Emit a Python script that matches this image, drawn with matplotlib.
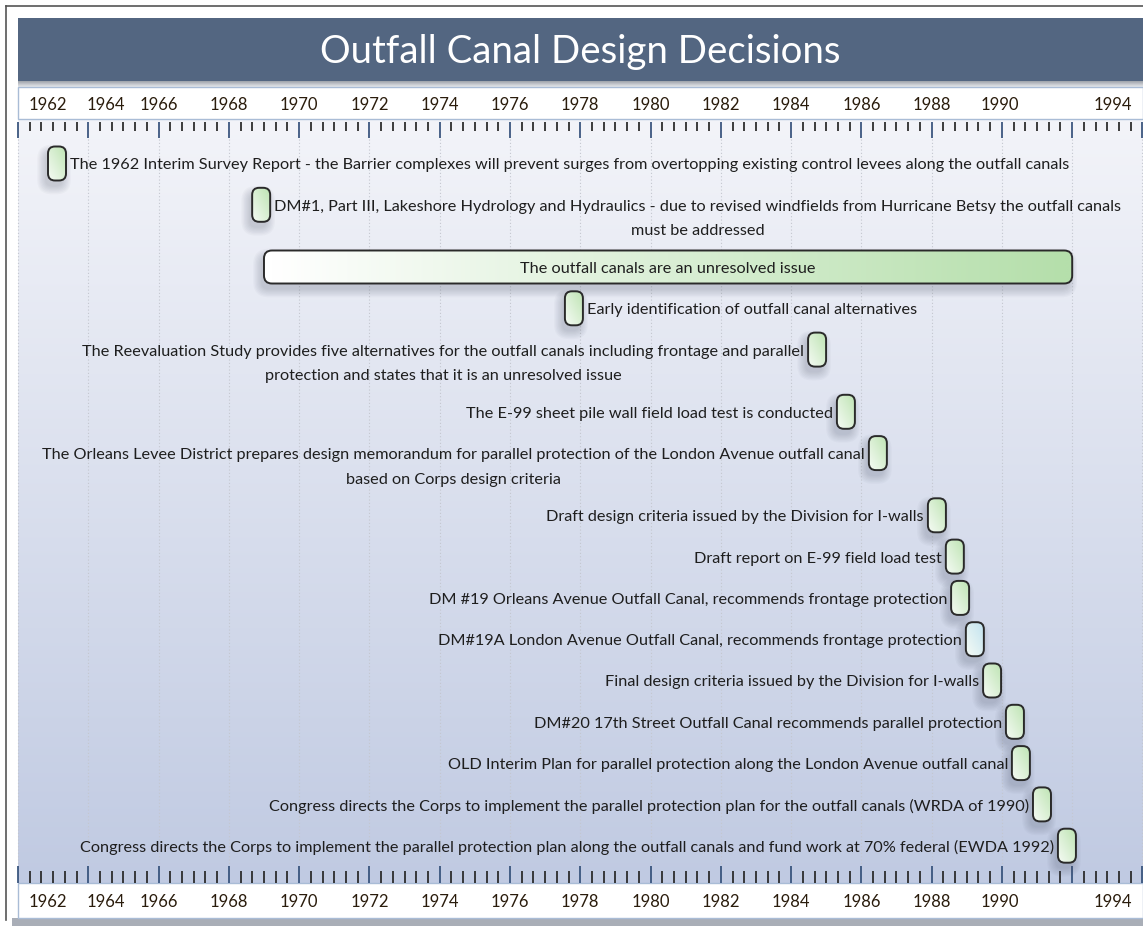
import numpy as np
import matplotlib
matplotlib.use("Agg")
import matplotlib.pyplot as plt
from matplotlib.patches import FancyBboxPatch, Rectangle
from matplotlib.colors import to_rgb

plt.rcParams['font.family'] = ['Lato', 'DejaVu Sans']

# ---------------- data ----------------
title = "Outfall Canal Design Decisions"
tick_label_years = [1962, 1964, 1966, 1968, 1970, 1972, 1974, 1976, 1978,
                    1980, 1982, 1984, 1986, 1988, 1990, 1994]

milestone_labels = [
    "The 1962 Interim Survey Report - the Barrier complexes will prevent surges from overtopping existing control levees along the outfall canals",
    "DM#1, Part III, Lakeshore Hydrology and Hydraulics - due to revised windfields from Hurricane Betsy the outfall canals\nmust be addressed",
    "Early identification of outfall canal alternatives",
    "The Reevaluation Study provides five alternatives for the outfall canals including frontage and parallel\nprotection and states that it is an unresolved issue",
    "The E-99 sheet pile wall field load test is conducted",
    "The Orleans Levee District prepares design memorandum for parallel protection of the London Avenue outfall canal\nbased on Corps design criteria",
    "Draft design criteria issued by the Division for I-walls",
    "Draft report on E-99 field load test",
    "DM #19 Orleans Avenue Outfall Canal, recommends frontage protection",
    "DM#19A London Avenue Outfall Canal, recommends frontage protection",
    "Final design criteria issued by the Division for I-walls",
    "DM#20 17th Street Outfall Canal recommends parallel protection",
    "OLD Interim Plan for parallel protection along the London Avenue outfall canal",
    "Congress directs the Corps to implement the parallel protection plan for the outfall canals (WRDA of 1990)",
    "Congress directs the Corps to implement the parallel protection plan along the outfall canals and fund work at 70% federal (EWDA 1992)",
]
milestone_dates = [1963.11, 1968.92, 1977.82, 1984.74, 1985.56, 1986.47, 1988.15,
                   1988.66, 1988.81, 1989.23, 1989.72, 1990.37, 1990.54, 1991.14, 1991.85]
milestone_sides = ['right', 'right', 'right'] + ['left'] * 12

span_label = "The outfall canals are an unresolved issue"
span_start = 1969.0
span_end = 1992.0
span_row = 2  # position of the span within the display order

# ---------------- styles / layout ----------------
milestone_colors = ['#c3e6b9'] * 15
milestone_colors[9] = '#c6e5f0'
label_offsets_px = [30, 18, 0, 0, 0, 0, 0, 0, 0, 0, 0, 0, 0, 0, -2, -30]

W, H = 1143, 926
PPY = 35.14          # pixels per year
ORIGIN_PX = 18.0     # pixel x of 1962.0
X0 = 1962 - ORIGIN_PX / PPY
X1 = X0 + W / PPY

def px(xp):
    return X0 + xp / PPY

fig = plt.figure(figsize=(W / 100, H / 100), dpi=100)
ax = fig.add_axes([0, 0, 1, 1])
ax.set_autoscale_on(False)
ax.set_xlim(X0, X1)
ax.set_ylim(H, 0)
ax.axis('off')

def lerp_img(c0, c1, t):
    c0 = np.array(to_rgb(c0)); c1 = np.array(to_rgb(c1))
    return c0 * (1 - t)[..., None] + c1 * t[..., None]

# outer frame & bottom gray strip
ax.add_patch(Rectangle((px(12), 918), (W - 12) / PPY, 10, fc='#a9aeb7', ec='none', zorder=0))
ax.plot([px(6), px(6)], [6, 920], color='#555555', lw=1.2, zorder=1)
ax.plot([px(6), px(W)], [6, 6], color='#555555', lw=1.2, zorder=1)

# body gradient
t = np.linspace(0, 1, 256)[:, None] * np.ones((1, 2))
body = lerp_img('#f3f4f9', '#c0cae2', t)
ax.imshow(body, extent=[px(18), px(W), 883, 119], aspect='auto',
          interpolation='bilinear', zorder=0.5)

# title bar + shadow
sh = np.linspace(0, 1, 32)[:, None] * np.ones((1, 2))
ax.imshow(lerp_img('#9ea3ab', '#f4f5f8', sh), extent=[px(18), px(W), 88, 81],
          aspect='auto', interpolation='bilinear', zorder=0.6)
ax.add_patch(Rectangle((px(18), 18), (W - 18) / PPY, 63, fc='#536681', ec='none', zorder=1))

# axis bands
ax.add_patch(Rectangle((px(18), 87), (W - 18) / PPY, 32, fc='white', ec='#a9bcd6', lw=1.0, zorder=1))
ax.add_patch(Rectangle((px(18), 883), (W - 18) / PPY, 35, fc='white', ec='#a9bcd6', lw=1.0, zorder=1))

# ticks
all_ticks = 1962 + np.arange(0, 32 * 3 + 1) / 3.0
is_major = np.isclose(np.round((all_ticks - 1962) * 3) % 6, 0)
major = all_ticks[is_major]
minor = all_ticks[~is_major]
ax.vlines(minor, 121.5, 130.5, color='#262626', lw=1.25, zorder=2)
ax.vlines(major, 121.5, 138, color='#34507a', lw=1.25, zorder=2)
ax.vlines(minor, 870.5, 883, color='#262626', lw=1.25, zorder=2)
ax.vlines(major, 866, 883, color='#34507a', lw=1.25, zorder=2)

# grid
ax.vlines(major, 139, 866, color='#c4c7cf', lw=0.8, linestyles=(0, (1, 2)), zorder=1)

# tick labels
for yr, off in zip(tick_label_years, label_offsets_px):
    for yy in (104.5, 902):
        ax.text(yr + off / PPY, yy, str(yr), ha='center', va='center',
                fontsize=12, color='#2a1c0c', zorder=3)

renderer = fig.canvas.get_renderer()

def fit_size(text, target_px, base=12.0):
    tt = ax.text(0, 0, text, fontsize=base)
    w = tt.get_window_extent(renderer).width
    tt.remove()
    return base * target_px / w

# title
tfs = fit_size(title, 520, 28)
ax.text(px(580), 63, title, ha='center', va='baseline', fontsize=tfs, color='white', zorder=3)

efs = fit_size(milestone_labels[0], 998, 11)

def round_box(x0_yr, y_top, w_px, h_px, r_px, **kw):
    p = FancyBboxPatch((x0_yr, y_top), w_px / PPY, h_px,
                       boxstyle=f"round,pad=0,rounding_size={r_px / PPY}",
                       mutation_aspect=PPY, **kw)
    ax.add_patch(p)
    return p

def shadow(x0_yr, y_top, w_px, h_px, r_px, dx=-3, dy=6, n=7):
    for k in range(n):
        g = k * 1.3
        round_box(x0_yr + (dx - g) / PPY, y_top + dy - g, w_px + 2 * g, h_px + 2 * g,
                  r_px + g, fc='#4a5266', ec='none', alpha=0.035, zorder=3)

def gradient_box(x0_yr, y_top, w_px, h_px, r_px, light, dark, mode):
    shadow(x0_yr, y_top, w_px, h_px, r_px)
    p = round_box(x0_yr, y_top, w_px, h_px, r_px, fc='none', ec='#2a2a2a', lw=1.4, zorder=5)
    n = 48
    X, Y = np.meshgrid(np.linspace(0, 1, n), np.linspace(0, 1, n))
    if mode == 'diag':
        tt = np.clip(0.55 * X + 0.55 * (1 - Y), 0, 1)
    else:
        tt = X
    im = ax.imshow(lerp_img(light, dark, tt),
                   extent=[x0_yr, x0_yr + w_px / PPY, y_top + h_px, y_top],
                   aspect='auto', interpolation='bilinear', zorder=4)
    im.set_clip_path(p)
    return p

# row layout
ROW = 41.3
EXTRA = 20.9
n_rows = len(milestone_labels) + 1
row_lines = []
mi = 0
for r in range(n_rows):
    if r == span_row:
        row_lines.append(1)
    else:
        row_lines.append(milestone_labels[mi].count('\n') + 1)
        mi += 1
row_y = []
y = 163.5
for r in range(n_rows):
    row_y.append(y)
    y += ROW + EXTRA * (row_lines[r] - 1)

PILL_W, PILL_H, PILL_R = 18, 34, 7
GAP = 13.0
LINE_GAP = 24.5
TXT_DY = 2.0

mi = 0
for r in range(n_rows):
    yc = row_y[r]
    if r == span_row:
        h = 33
        x0 = span_start
        wpx = (span_end - span_start) * PPY
        gradient_box(x0, yc - h / 2, wpx, h, 8, '#ffffff', '#b5dfab', 'h')
        ax.text((span_start + span_end) / 2, yc + TXT_DY, span_label, ha='center', va='center',
                fontsize=efs, color='#1e1e1e', zorder=6)
        continue
    d = milestone_dates[mi]
    lab = milestone_labels[mi]
    side = milestone_sides[mi]
    col = milestone_colors[mi]
    mi += 1
    gradient_box(d - PILL_W / 2 / PPY, yc - PILL_H / 2, PILL_W, PILL_H, PILL_R,
                 '#f6fbf5', col, 'diag')
    lines = lab.split('\n')
    if side == 'right':
        tx, ha = d + GAP / PPY, 'left'
    else:
        tx, ha = d - GAP / PPY, 'right'
    t1 = ax.text(tx, yc + TXT_DY, lines[0], ha=ha, va='center', fontsize=efs,
                 color='#1e1e1e', zorder=6)
    if len(lines) > 1:
        bb = t1.get_window_extent(renderer)
        cx = px((bb.x0 + bb.x1) / 2)
        for k, ln in enumerate(lines[1:], start=1):
            ax.text(cx, yc + TXT_DY + LINE_GAP * k, ln, ha='center', va='center', fontsize=efs,
                    color='#1e1e1e', zorder=6)

ax.set_xlim(X0, X1)
ax.set_ylim(H, 0)
fig.savefig("out.png", dpi=100)
